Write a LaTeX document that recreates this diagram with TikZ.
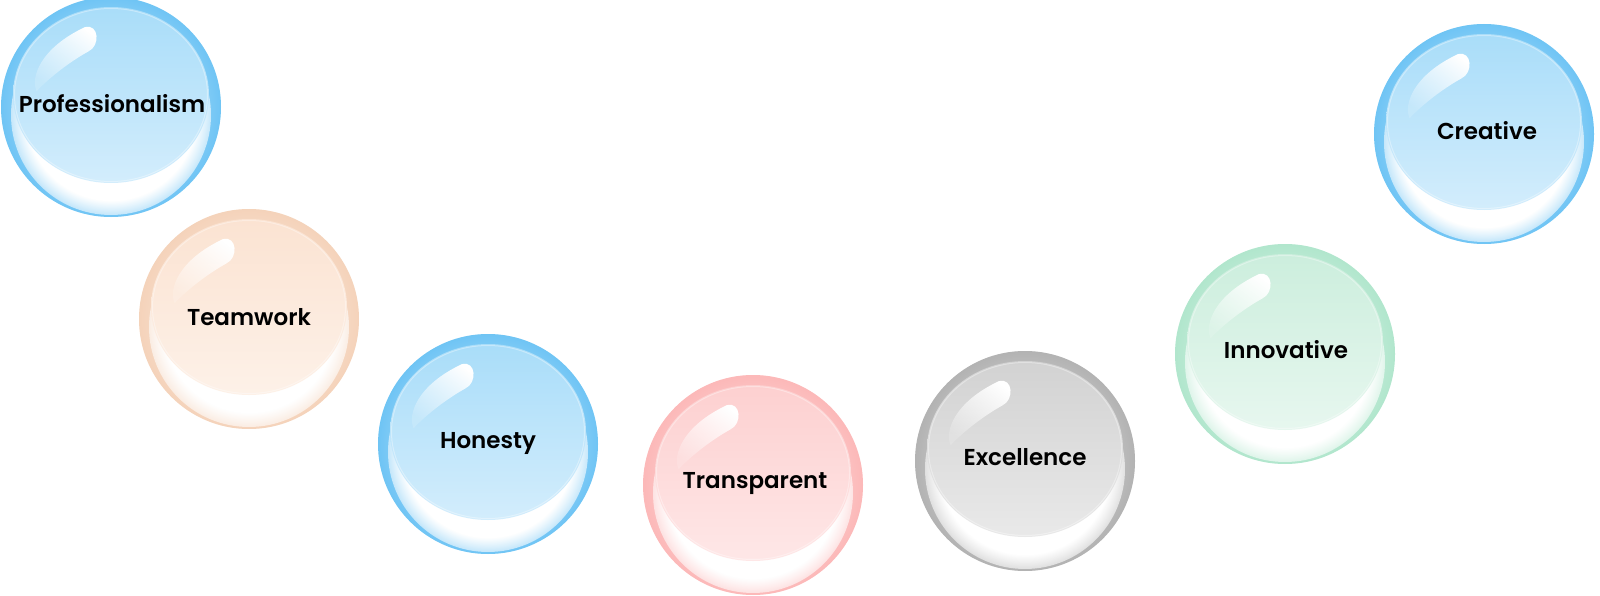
\documentclass[tikz,border=0pt]{standalone}
\usepackage{fontspec}
\setmainfont{Poppins}[UprightFont=* SemiBold]
\usetikzlibrary{fadings}
\pgfdeclareradialshading{rimfadeshade}{\pgfpoint{0bp}{0bp}}{color(0bp)=(pgftransparent!0); color(21.3bp)=(pgftransparent!0); color(25.5bp)=(pgftransparent!50); color(28.35bp)=(pgftransparent!100); color(30bp)=(pgftransparent!100)}
\pgfdeclarefading{rimfade}{\pgfuseshading{rimfadeshade}}
\tikzfading[name=hlfade, left color=transparent!85, right color=transparent!0]
\definecolor{rimBlue}{HTML}{55BAF3}
\definecolor{topBlue}{HTML}{A9DDF9}
\definecolor{botBlue}{HTML}{D3EDFC}
\definecolor{rimPeach}{HTML}{F3CBAE}
\definecolor{topPeach}{HTML}{FBE3D2}
\definecolor{botPeach}{HTML}{FDF1E8}
\definecolor{rimPink}{HTML}{FCACAC}
\definecolor{topPink}{HTML}{FDD0D0}
\definecolor{botPink}{HTML}{FEE7E7}
\definecolor{rimGrey}{HTML}{A5A5A5}
\definecolor{topGrey}{HTML}{D2D2D2}
\definecolor{botGrey}{HTML}{E9E9E9}
\definecolor{rimGreen}{HTML}{A3E2C4}
\definecolor{topGreen}{HTML}{CCEEDD}
\definecolor{botGreen}{HTML}{E7F7EF}
\newcommand\drawbubble[4]{%
  \begin{scope}[shift={#1}]
    \fill[#2] (0pt,0pt) circle[radius=110pt];
    \begin{scope}
      \clip (0pt,0pt) circle[radius=110pt];
      \fill[white, opacity=.25, path fading=rimfade] (0pt,0pt) circle[radius=112pt];
      \fill[white, path fading=rimfade] (0pt,-8pt) circle[radius=100pt];
    \end{scope}
    \shade[top color=#3, bottom color=#4] (0pt,12pt) ellipse[x radius=98pt, y radius=88pt];
    \draw[white, opacity=.35, line width=1pt] (0pt,12pt) ellipse[x radius=96.5pt, y radius=86.5pt];
    \fill[white, path fading=hlfade, fading angle=53] (108:84pt) .. controls (140:92pt) and (160:86pt) .. (168:76pt) .. controls (158:70pt) and (135:62pt) .. (112:60pt) .. controls (100:62pt) and (98:84pt) .. cycle;
  \end{scope}}
\begin{document}
\begin{tikzpicture}[x=1pt,y=-1pt,
  lbl/.style={anchor=base, inner sep=0pt, font=\fontsize{23}{28}\selectfont, text=black}]
\useasboundingbox (0,0) rectangle (1600,596);
\begin{scope}
\clip (0,0) rectangle (1600,596);
\drawbubble{(111,107)}{rimBlue}{topBlue}{botBlue}
\drawbubble{(249,319)}{rimPeach}{topPeach}{botPeach}
\drawbubble{(488,444)}{rimBlue}{topBlue}{botBlue}
\drawbubble{(753,485)}{rimPink}{topPink}{botPink}
\drawbubble{(1025,461)}{rimGrey}{topGrey}{botGrey}
\drawbubble{(1285,354)}{rimGreen}{topGreen}{botGreen}
\drawbubble{(1484,134)}{rimBlue}{topBlue}{botBlue}
\end{scope}
\node[lbl] (professionalism) at (112,113) {Professionalism};
\node[lbl] (teamwork) at (249,325) {Teamwork};
\node[lbl] (honesty) at (488,448) {Honesty};
\node[lbl] (transparent) at (755,488) {Transparent};
\node[lbl] (excellence) at (1025,465) {Excellence};
\node[lbl] (innovative) at (1286,358) {Innovative};
\node[lbl] (creative) at (1487,140) {Creative};
\end{tikzpicture}
\end{document}
